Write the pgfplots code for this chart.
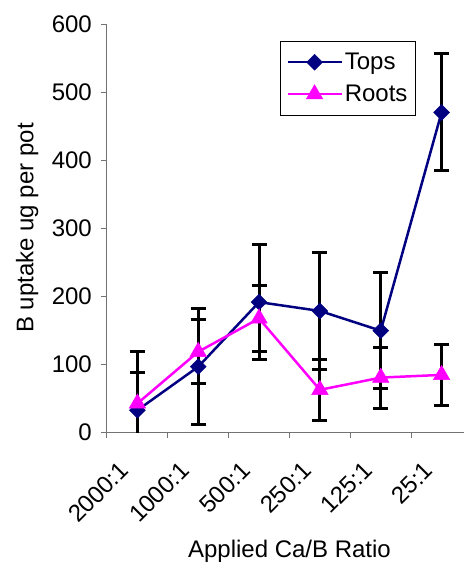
\documentclass[border=0pt]{standalone}
\usepackage{pgfplots}
\pgfplotsset{compat=1.18}
\usepackage{fontspec}
\setmainfont{Liberation Sans}
\definecolor{topsblue}{RGB}{0,0,128}
\definecolor{rootsmag}{RGB}{255,0,255}
\newcommand{\ff}{\fontsize{24}{28}\selectfont}

\begin{document}
\begin{tikzpicture}
\begin{axis}[
    scale only axis,
    width=365pt, height=408pt,
    xmin=-0.5, xmax=5.5,
    ymin=0, ymax=600,
    axis lines*=left,
    axis line style={black!55, line width=1pt},
    tick align=outside,
    major tick length=6pt,
    minor tick length=6pt,
    tick style={black!55, line width=1pt},
    ytick={0,100,...,600},
    xtick={0,...,5},
    xticklabels={2000:1,1000:1,500:1,250:1,125:1,25:1},
    major x tick style={draw=none},
    minor xtick={-0.5,0.5,...,5.5},
    tick label style={font=\ff},
    /pgf/number format/assume math mode=true,
    yticklabel style={inner sep=0pt, xshift=-9pt},
    xticklabel style={inner sep=0pt, xshift=-13pt, yshift=-28pt, anchor=east, rotate=45},
    xlabel={Applied Ca/B Ratio},
    ylabel={B uptake ug per pot},
    label style={font=\ff},
    xlabel style={at={(axis description cs:0.5,-0.3088)}, anchor=base},
    ylabel style={at={(axis description cs:-0.219,0.5)}, anchor=center},
    legend style={at={(0.8466,0.959)}, anchor=north east, draw=black,
        line width=1pt, font=\ff, inner xsep=6pt, inner ysep=10pt,
        row sep=10pt, /tikz/column 2/.style={column sep=3pt}},
    legend cell align=left,
    legend image code/.code={\draw[mark repeat=2, mark phase=2, #1]
        plot coordinates {(0pt,0pt) (27pt,0pt) (54pt,0pt)};},
    error bars/error bar style={black, line width=3pt},
    error bars/error mark options={black, rotate=90, mark size=7.5pt, line width=3pt},
]
    % error bars first, so that the lines and marks lie on them
    \addplot[draw=none, forget plot, error bars/.cd, y dir=both, y explicit]
    coordinates {
        (0, 32) +- (0, 86)
        (1, 96) +- (0, 85)
        (2, 191) +- (0, 85)
        (3, 178) +- (0, 86)
        (4, 149) +- (0, 85)
        (5, 470) +- (0, 86)
    };
    \addplot[draw=none, forget plot, error bars/.cd, y dir=both, y explicit]
    coordinates {
        (0, 42) +- (0, 45)
        (1, 118) +- (0, 47)
        (2, 167) +- (0, 48)
        (3, 62) +- (0, 45)
        (4, 80) +- (0, 45)
        (5, 84) +- (0, 45)
    };
    % Tops
    \addplot[topsblue, line width=2.5pt, mark=square*, mark size=5.6pt,
        mark options={rotate=45, fill=topsblue, line width=0.5pt}]
    coordinates {
        (0, 32) (1, 96) (2, 191) (3, 178) (4, 149) (5, 470)
    };
    % Roots
    \addplot[rootsmag, line width=2.5pt, mark=triangle*, mark size=9.5pt,
        mark options={fill=rootsmag, line width=0.5pt}]
    coordinates {
        (0, 42) (1, 118) (2, 167) (3, 62) (4, 80) (5, 84)
    };
    \legend{Tops, Roots}
    \coordinate (O) at (rel axis cs:0,0);
\end{axis}
\pgfresetboundingbox
\useasboundingbox ([shift={(-107pt,-130pt)}]O) rectangle ++(463pt,562pt);
\end{tikzpicture}
\end{document}
